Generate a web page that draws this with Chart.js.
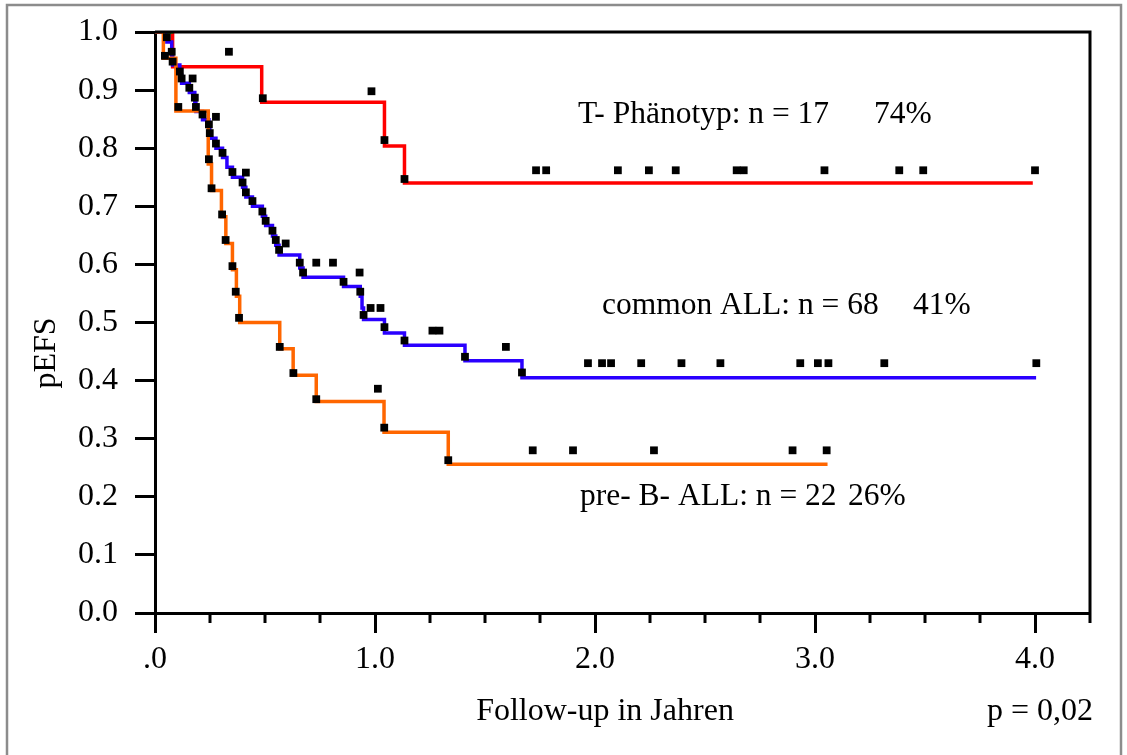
<!DOCTYPE html>
<html>
<head>
<meta charset="utf-8">
<script src="https://cdn.jsdelivr.net/npm/chart.js@4.4.0/dist/chart.umd.min.js"></script>
<style>
  html, body { margin: 0; padding: 0; background: #fff; }
  #wrap { position: relative; width: 1127px; height: 755px; }
</style>
</head>
<body>
<div id="wrap"><canvas id="efs" width="1127" height="755"></canvas></div>
<script>
// --- 1. DATA ---
// step curves: time in years, pEFS level from that time on
const redTimes = [0, 0.08, 0.485, 1.043, 1.134, 3.99];
const redSurv  = [1.0, 0.94, 0.879, 0.804, 0.740, 0.740];

const blueTimes = [0, 0.054, 0.076, 0.080, 0.113, 0.121, 0.156, 0.181, 0.186, 0.216, 0.245, 0.249,
    0.277, 0.307, 0.327, 0.352, 0.398, 0.413, 0.443, 0.488, 0.503, 0.534, 0.549, 0.564, 0.658,
    0.673, 0.857, 0.933, 0.941, 0.948, 1.043, 1.134, 1.409, 1.668, 4.005];
const blueSurv = [1.0, 0.983, 0.960, 0.943, 0.926, 0.912, 0.896, 0.879, 0.863, 0.849, 0.833, 0.817,
    0.800, 0.784, 0.767, 0.750, 0.733, 0.716, 0.700, 0.683, 0.667, 0.649, 0.633, 0.616, 0.594,
    0.578, 0.562, 0.545, 0.525, 0.505, 0.482, 0.461, 0.434, 0.405, 0.405];

const orangeTimes = [0, 0.038, 0.095, 0.242, 0.257, 0.302, 0.322, 0.352, 0.370, 0.385, 0.567, 0.628,
    0.733, 1.041, 1.333, 3.057];
const orangeSurv = [1.0, 0.955, 0.864, 0.773, 0.727, 0.682, 0.636, 0.591, 0.545, 0.500, 0.455, 0.409,
    0.364, 0.311, 0.256, 0.256];

const greenTimes = [0.055, 0.08];
const greenSurv = [1.0, 1.0];

// black square marks (events and censored patients)
const redMarkT = [0.336, 0.49, 0.984, 1.043, 1.134, 1.732, 1.778, 2.104, 2.245, 2.367, 2.644, 2.676,
    3.043, 3.383, 3.492, 4.0];
const redMarkS = [0.966, 0.886, 0.898, 0.814, 0.747, 0.762, 0.762, 0.762, 0.762, 0.762, 0.762, 0.762,
    0.762, 0.762, 0.762, 0.762];

const blueMarkT = [0.054, 0.076, 0.080, 0.113, 0.121, 0.156, 0.181, 0.186, 0.216, 0.245, 0.249, 0.277,
    0.307, 0.352, 0.398, 0.413, 0.443, 0.488, 0.503, 0.534, 0.549, 0.564, 0.658, 0.673, 0.857, 0.933,
    0.948, 1.043, 1.134, 1.409, 1.668,
    0.171, 0.277, 0.413, 0.594, 0.733, 0.809, 0.930, 0.980, 1.025, 1.261, 1.293, 1.595,
    1.968, 2.032, 2.073, 2.210, 2.393, 2.570, 2.933, 3.013, 3.061, 3.315, 4.006];
const blueMarkS = [0.991, 0.966, 0.949, 0.932, 0.920, 0.904, 0.887, 0.871, 0.858, 0.841, 0.826, 0.808,
    0.792, 0.759, 0.741, 0.724, 0.709, 0.691, 0.675, 0.658, 0.642, 0.625, 0.603, 0.586, 0.570, 0.553,
    0.513, 0.492, 0.469, 0.441, 0.414,
    0.920, 0.854, 0.758, 0.636, 0.603, 0.603, 0.586, 0.525, 0.525, 0.486, 0.486, 0.458,
    0.430, 0.430, 0.430, 0.430, 0.430, 0.430, 0.430, 0.430, 0.430, 0.430, 0.430];

const orangeMarkT = [0.045, 0.106, 0.245, 0.257, 0.305, 0.321, 0.352, 0.367, 0.382, 0.567, 0.629, 0.733,
    1.042, 1.333, 1.013, 1.717, 1.900, 2.268, 2.898, 3.053];
const orangeMarkS = [0.959, 0.871, 0.781, 0.731, 0.686, 0.642, 0.597, 0.553, 0.508, 0.458, 0.413, 0.368,
    0.319, 0.263, 0.386, 0.280, 0.280, 0.280, 0.280, 0.280];

// axis ticks and texts
const xTickLabels = { 0: '.0', 1: '1.0', 2: '2.0', 3: '3.0', 4: '4.0' };
const groupLabels = ['T- Phänotyp: n = 17', 'common ALL: n = 68', 'pre- B- ALL: n = 22'];
const groupPercents = ['74%', '41%', '26%'];

// --- 2. HELPERS ---
const FONT = '"Liberation Serif", "Times New Roman", serif';
const pts = (xs, ys) => xs.map((t, i) => ({ x: t, y: ys[i] }));

function stepSet(xs, ys, color) {
    return { data: pts(xs, ys), showLine: true, stepped: true, borderColor: color, borderWidth: 3.5,
             pointRadius: 0, fill: false, order: 2 };
}
function markSet(xs, ys) {
    return { data: pts(xs, ys), showLine: false, pointStyle: 'rect', pointRadius: 5.5,
             backgroundColor: '#000', borderWidth: 0, order: 1 };
}

// frame, minor ticks and free texts
const decorations = {
    id: 'decorations',
    afterDraw(chart) {
        const { ctx, chartArea: a, scales: { x } } = chart;
        ctx.save();
        // grey outer frame
        ctx.strokeStyle = '#8c8c8c';
        ctx.lineWidth = 2.5;
        ctx.strokeRect(7, 5, 1114, 800);

        // top and right box lines
        ctx.strokeStyle = '#000';
        ctx.lineWidth = 3;
        ctx.beginPath();
        ctx.moveTo(a.left, a.top);
        ctx.lineTo(a.right, a.top);
        ctx.lineTo(a.right, a.bottom + 10);
        ctx.stroke();

        // minor ticks every quarter year
        ctx.beginPath();
        for (let v = 0.25; v < x.max; v += 0.25) {
            if (Math.abs(v - Math.round(v)) < 1e-6) continue;
            const px = x.getPixelForValue(v);
            ctx.moveTo(px, a.bottom);
            ctx.lineTo(px, a.bottom + 10);
        }
        ctx.stroke();

        // texts
        ctx.fillStyle = '#000';
        ctx.font = '32px ' + FONT;
        ctx.textBaseline = 'middle';
        ctx.textAlign = 'center';
        ctx.fillText('Follow-up in Jahren', 605, 712);
        ctx.fillText('p = 0,02', 1040, 712);

        ctx.save();
        ctx.translate(47, 353);
        ctx.rotate(-Math.PI / 2);
        ctx.fillText('pEFS', 0, 0);
        ctx.restore();

        ctx.font = '31.5px ' + FONT;
        const labelPos = [[578, 874, 115], [602, 913, 306], [580, 848, 497]];
        ctx.textAlign = 'left';
        groupLabels.forEach((txt, i) => {
            const [lx, px, ly] = labelPos[i];
            ctx.fillText(txt, lx, ly);
            ctx.fillText(groupPercents[i], px, ly);
        });
        ctx.restore();
    }
};

// --- 3. CHART ---
function renderChart() {
    const ctx = document.getElementById('efs');
    new Chart(ctx, {
        type: 'scatter',
        data: {
            datasets: [
                markSet(redMarkT, redMarkS),
                markSet(blueMarkT, blueMarkS),
                markSet(orangeMarkT, orangeMarkS),
                stepSet(greenTimes, greenSurv, '#00c000'),
                stepSet(orangeTimes, orangeSurv, '#ff6600'),
                stepSet(blueTimes, blueSurv, '#2a00ff'),
                stepSet(redTimes, redSurv, '#ff0000')
            ]
        },
        options: {
            responsive: false,
            animation: false,
            devicePixelRatio: 1,
            layout: { padding: { left: 0, top: 32, right: 37, bottom: 0 } },
            plugins: { legend: { display: false }, tooltip: { enabled: false } },
            scales: {
                x: {
                    type: 'linear', min: 0, max: 4.25, position: 'bottom',
                    afterFit: s => { s.height = 142; s.paddingLeft = 0; s.paddingRight = 0; },
                    ticks: {
                        stepSize: 1, includeBounds: false, autoSkip: false, maxRotation: 0,
                        padding: 7, color: '#000', font: { family: FONT, size: 32 },
                        callback: v => xTickLabels[v] ?? ''
                    },
                    grid: { drawOnChartArea: false, tickLength: 20, tickWidth: 3, tickColor: '#000' },
                    border: { color: '#000', width: 3 }
                },
                y: {
                    type: 'linear', min: 0, max: 1,
                    afterFit: s => { s.width = 155; s.paddingTop = 0; s.paddingBottom = 0; },
                    ticks: {
                        stepSize: 0.1, padding: 17, color: '#000', font: { family: FONT, size: 32 },
                        callback: v => v.toFixed(1)
                    },
                    grid: { drawOnChartArea: false, tickLength: 20, tickWidth: 3, tickColor: '#000' },
                    border: { color: '#000', width: 3 }
                }
            }
        },
        plugins: [decorations]
    });
}

document.fonts.load('32px "Liberation Serif"').then(renderChart, renderChart);
</script>
</body>
</html>
